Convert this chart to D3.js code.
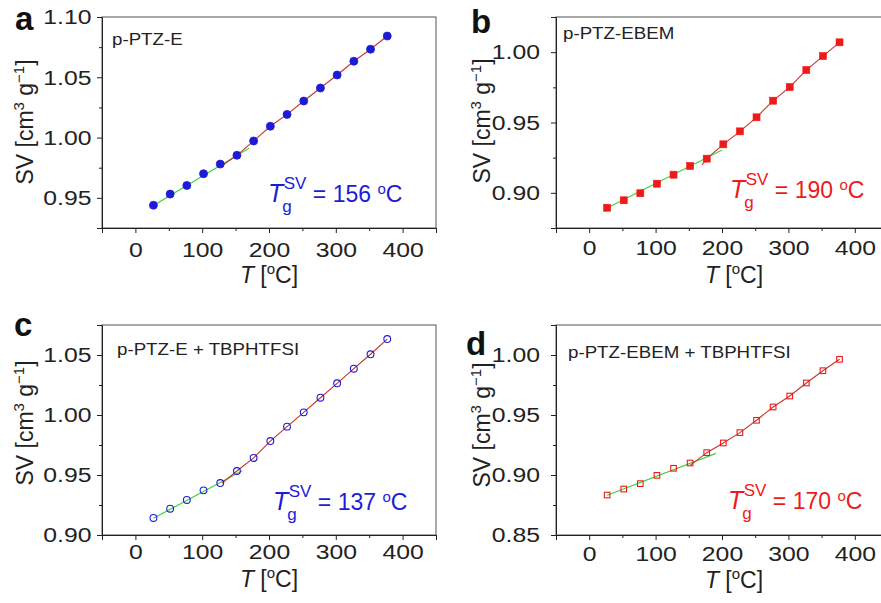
<!DOCTYPE html>
<html>
<head>
<meta charset="utf-8">
<script src="https://cdn.jsdelivr.net/npm/d3@7"></script>
<style>
  html, body { margin: 0; padding: 0; background: #fff; }
  svg { display: block; font-family: "Liberation Sans", Arial, sans-serif; }
</style>
</head>
<body>
<svg id="chart" width="881" height="603"></svg>
<script>
// temperatures (deg C) of the measured points, same for all four samples
var temps = [27, 52, 77, 102, 127, 152, 177, 202, 227, 252, 277, 302, 327, 352, 377];

// specific volume [cm3 g-1]
var svA = [0.9439, 0.9531, 0.9603, 0.9700, 0.9780, 0.9853, 0.9972, 1.0094, 1.0192, 1.0303, 1.0411, 1.0519, 1.0633, 1.0733, 1.0842];
var svB = [0.8894, 0.8947, 0.8997, 0.9065, 0.9129, 0.9191, 0.9243, 0.9345, 0.9437, 0.9537, 0.9655, 0.9752, 0.9873, 0.9972, 1.0070];
var svC = [0.9142, 0.9219, 0.9292, 0.9372, 0.9433, 0.9533, 0.9642, 0.9783, 0.9903, 1.0022, 1.0144, 1.0264, 1.0386, 1.0506, 1.0633];
var svD = [0.8833, 0.8883, 0.8928, 0.8997, 0.9056, 0.9100, 0.9186, 0.9267, 0.9353, 0.9456, 0.9567, 0.9658, 0.9767, 0.9869, 0.9964];

// glassy-state linear fits (green), start and end
var greenA = [[27, 0.9437], [170, 0.9912]];
var greenB = [[27, 0.8892], [200, 0.9304]];
var greenC = [[27, 0.9140], [160, 0.9536]];
var greenD = [[27, 0.8831], [191, 0.9180]];

// where the rubbery-state fit (red) starts; it then follows the points
var redStartA = [130, 0.9768];
var redStartB = [170, 0.9198];
var redStartC = [130, 0.9433];
var redStartD = [152, 0.9080];

var names = ['p-PTZ-E', 'p-PTZ-EBEM', 'p-PTZ-E + TBPHTFSI', 'p-PTZ-EBEM + TBPHTFSI'];
var letters = ['a', 'b', 'c', 'd'];
var tgValues = [156, 190, 137, 170];

var xDomain = [-50, 450];
var xTicks = [0, 100, 200, 300, 400];
var xMinor = [-50, 50, 150, 250, 350, 450];

var yDomA = [0.925, 1.10], yTicksA = [0.95, 1.00, 1.05, 1.10], yMinorA = [0.925, 0.975, 1.025, 1.075];
var yDomB = [0.875, 1.025], yTicksB = [0.90, 0.95, 1.00], yMinorB = [0.875, 0.925, 0.975, 1.025];
var yDomC = [0.90, 1.075], yTicksC = [0.90, 0.95, 1.00, 1.05], yMinorC = [0.925, 0.975, 1.025, 1.075];
var yDomD = [0.85, 1.025], yTicksD = [0.85, 0.90, 0.95, 1.00], yMinorD = [0.875, 0.925, 0.975, 1.025];

var BLUE = '#1c1cd8', RED = '#ee1a1a';
var SX = 1.18; // tick labels are drawn a bit wide in the original

var panels = [
  {sv: svA, green: greenA, red: redStartA, yDom: yDomA, yTicks: yTicksA, yMinor: yMinorA,
   left: 102, top: 17, w: 334, h: 211, color: BLUE, marker: 'circle', filled: true,
   letterPos: [15, 30], namePos: [112, 45], tgPos: [268, 202], gapY: 10.5, gapX: 29,
   xTitle: [269, 283], yTitle: [33, 122]},
  {sv: svB, green: greenB, red: redStartB, yDom: yDomB, yTicks: yTicksB, yMinor: yMinorB,
   left: 556, top: 17, w: 332, h: 211, color: RED, marker: 'square', filled: true,
   letterPos: [471, 33], namePos: [563, 39], tgPos: [730, 198], gapY: 16, gapX: 27,
   xTitle: [734, 283], yTitle: [490, 121]},
  {sv: svC, green: greenC, red: redStartC, yDom: yDomC, yTicks: yTicksC, yMinor: yMinorC,
   left: 102, top: 325, w: 334, h: 210, color: BLUE, marker: 'circle', filled: false,
   letterPos: [14, 336], namePos: [117, 355], tgPos: [273, 510], gapY: 10.5, gapX: 24,
   xTitle: [269, 587], yTitle: [33, 423]},
  {sv: svD, green: greenD, red: redStartD, yDom: yDomD, yTicks: yTicksD, yMinor: yMinorD,
   left: 556, top: 325, w: 332, h: 210, color: RED, marker: 'square', filled: false,
   letterPos: [466, 355], namePos: [568, 358], tgPos: [728, 509], gapY: 16, gapX: 26,
   xTitle: [734, 588], yTitle: [490, 425]}
];

var svg = d3.select('#chart');
svg.append('rect').attr('width', 881).attr('height', 603).attr('fill', '#fff');

panels.forEach(function(p, i) {
  var g = svg.append('g').attr('transform', 'translate(' + p.left + ',' + p.top + ')');
  var x = d3.scaleLinear().domain(xDomain).range([0, p.w]);
  var y = d3.scaleLinear().domain(p.yDom).range([p.h, 0]);

  // frame
  g.append('rect').attr('width', p.w).attr('height', p.h)
    .attr('fill', 'none').attr('stroke', '#555').attr('stroke-width', 1);

  // minor ticks
  g.append('g').attr('class', 'minor')
    .call(d3.axisLeft(y).tickValues(p.yMinor).tickSize(3).tickFormat(''));
  g.append('g').attr('class', 'minor').attr('transform', 'translate(0,' + p.h + ')')
    .call(d3.axisBottom(x).tickValues(xMinor).tickSize(3).tickFormat(''));

  // major ticks
  var ya = g.append('g')
    .call(d3.axisLeft(y).tickValues(p.yTicks).tickSize(5).tickFormat(d3.format('.2f')));
  ya.selectAll('text').attr('x', -p.gapY / SX).attr('transform', 'scale(' + SX + ',1)');
  var xa = g.append('g').attr('transform', 'translate(0,' + p.h + ')')
    .call(d3.axisBottom(x).tickValues(xTicks).tickSize(5));
  xa.selectAll('text').attr('dy', null).attr('y', p.gapX).attr('transform', 'scale(' + SX + ',1)');

  g.selectAll('.minor .domain').remove();
  g.selectAll('.domain').attr('stroke', '#222');
  g.selectAll('.tick line').attr('stroke', '#222');
  g.selectAll('.tick text').attr('fill', '#222').style('font-size', '21px')
    .style('font-family', '"Liberation Sans", Arial, sans-serif');

  // fit lines
  var line = d3.line().x(function(d) { return x(d[0]); }).y(function(d) { return y(d[1]); });
  var pts = temps.map(function(t, k) { return [t, p.sv[k]]; });
  var redPts = [p.red].concat(pts.filter(function(d) { return d[0] > p.red[0]; }));
  g.append('path').datum(p.green).attr('d', line)
    .attr('fill', 'none').attr('stroke', '#3fd43f').attr('stroke-width', 1.2);
  g.append('path').datum(redPts).attr('d', line)
    .attr('fill', 'none').attr('stroke', '#c8342c').attr('stroke-width', 1.1);

  // markers
  if (p.marker === 'circle') {
    g.selectAll('.pt').data(pts).enter().append('circle')
      .attr('cx', function(d) { return x(d[0]); })
      .attr('cy', function(d) { return y(d[1]); })
      .attr('r', p.filled ? 4 : 3.4)
      .attr('fill', p.filled ? p.color : 'none')
      .attr('stroke', p.color).attr('stroke-width', p.filled ? 0.8 : 1.1);
  } else {
    var s = p.filled ? 7 : 5.6;
    g.selectAll('.pt').data(pts).enter().append('rect')
      .attr('x', function(d) { return x(d[0]) - s / 2; })
      .attr('y', function(d) { return y(d[1]) - s / 2; })
      .attr('width', s).attr('height', s)
      .attr('fill', p.filled ? p.color : 'none')
      .attr('stroke', p.color).attr('stroke-width', p.filled ? 0.6 : 1.1);
  }

  // panel letter
  svg.append('text').attr('x', p.letterPos[0]).attr('y', p.letterPos[1])
    .style('font-size', '33px').style('font-weight', 'bold').attr('fill', '#111')
    .text(letters[i]);

  // sample name
  svg.append('text')
    .attr('transform', 'translate(' + p.namePos[0] + ',' + p.namePos[1] + ') scale(1.17,1)')
    .style('font-size', '16px').attr('fill', '#222').text(names[i]);

  // Tg annotation
  var tg = svg.append('text').attr('x', p.tgPos[0]).attr('y', p.tgPos[1])
    .attr('fill', p.color).style('font-size', '23px');
  tg.append('tspan').style('font-style', 'italic').style('font-size', '25px').text('T');
  tg.append('tspan').style('font-size', '17px').attr('dx', -1).attr('dy', 10).text('g');
  tg.append('tspan').style('font-size', '17px').attr('dx', -8).attr('dy', -23).text('SV');
  tg.append('tspan').attr('dy', 13).text(' = ' + tgValues[i] + ' ');
  tg.append('tspan').style('font-size', '15px').attr('dy', -8).text('o');
  tg.append('tspan').attr('dy', 8).text('C');

  // x title
  var xt = svg.append('text').attr('x', p.xTitle[0]).attr('y', p.xTitle[1])
    .attr('text-anchor', 'middle').style('font-size', '23px').attr('fill', '#222');
  xt.append('tspan').style('font-style', 'italic').text('T');
  xt.append('tspan').text(' [');
  xt.append('tspan').style('font-size', '15px').attr('dy', -9).text('o');
  xt.append('tspan').attr('dy', 9).text('C]');

  // y title
  var yt = svg.append('text')
    .attr('transform', 'translate(' + p.yTitle[0] + ',' + p.yTitle[1] + ') rotate(-90)')
    .attr('text-anchor', 'middle').style('font-size', '23px').attr('fill', '#222');
  yt.append('tspan').text('SV [cm');
  yt.append('tspan').style('font-size', '15px').attr('dy', -9).text('3');
  yt.append('tspan').attr('dy', 9).text(' g');
  yt.append('tspan').style('font-size', '15px').attr('dy', -9).text('\u22121');
  yt.append('tspan').attr('dy', 9).text(']');
});
</script>
</body>
</html>
